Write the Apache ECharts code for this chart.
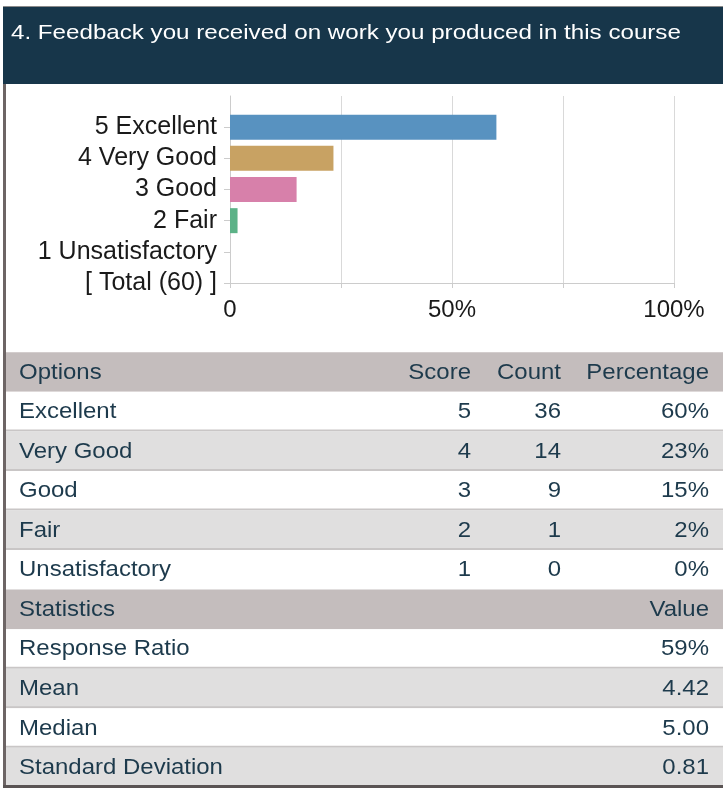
<!DOCTYPE html>
<html><head><meta charset="utf-8">
<script src="https://cdn.jsdelivr.net/npm/echarts@6/dist/echarts.min.js"></script>
<style>html,body{margin:0;padding:0;background:#fff}#c{width:723px;height:788px}</style>
</head><body><div id="c"></div>
<script>
const titleText = '4. Feedback you received on work you produced in this course';
const categories = ['5 Excellent', '4 Very Good', '3 Good', '2 Fair', '1 Unsatisfactory', '[ Total (60) ]'];
const barPercents = [60, 23.3, 15, 1.7, 0, null];
const barColors = ['#5892c0', '#c8a263', '#d780aa', '#5cb287', '#999999', '#999999'];
const xTickValues = [0, 50, 100];

const tableHeader = ['Options', 'Score', 'Count', 'Percentage'];
const optionNames = ['Excellent', 'Very Good', 'Good', 'Fair', 'Unsatisfactory'];
const scores = ['5', '4', '3', '2', '1'];
const counts = ['36', '14', '9', '1', '0'];
const percentLabels = ['60%', '23%', '15%', '2%', '0%'];
const statHeader = ['Statistics', '', '', 'Value'];
const statNames = ['Response Ratio', 'Mean', 'Median', 'Standard Deviation'];
const statValues = ['59%', '4.42', '5.00', '0.81'];

const FONT = "'Liberation Sans', Arial, sans-serif";
const TXT = '#1d3a4c';
const chart = echarts.init(document.getElementById('c'));

// table layout
const rowH = 39.55, tableTop = 352.3, tableLeft = 6, tableW = 717;
const cols = [{x: 19, align: 'left'}, {x: 471, align: 'right'}, {x: 561, align: 'right'}, {x: 709, align: 'right'}];
const rows = [];
rows.push({head: true, cells: tableHeader});
optionNames.forEach((n, i) => rows.push({head: false, k: i, last: i === optionNames.length - 1, cells: [n, scores[i], counts[i], percentLabels[i]]}));
rows.push({head: true, cells: statHeader});
statNames.forEach((n, i) => rows.push({head: false, k: i, last: i === statNames.length - 1, cells: [n, '', '', statValues[i]]}));

const graphics = [];
graphics.push({type: 'rect', shape: {x: 3, y: 6, width: 720, height: 1}, style: {fill: '#8a8a8a'}});
graphics.push({type: 'rect', shape: {x: 3, y: 7, width: 720, height: 77}, style: {fill: '#17364a'}});
graphics.push({type: 'text', x: 11, y: 33, scaleX: 1.15, style: {text: titleText, fill: '#ffffff', fontSize: 21, fontFamily: FONT, align: 'left', verticalAlign: 'middle'}});

rows.forEach((r, ri) => {
  const y = tableTop + ri * rowH;
  const bg = r.head ? '#c4bdbd' : (r.k % 2 === 0 ? '#ffffff' : '#e0dfdf');
  graphics.push({type: 'rect', shape: {x: tableLeft, y: y, width: tableW, height: rowH}, style: {fill: bg}});
  if (!r.head && !r.last) {
    graphics.push({type: 'rect', shape: {x: tableLeft, y: y + rowH - 2, width: tableW, height: 2}, style: {fill: '#c9c6c6'}});
  }
  r.cells.forEach((t, ci) => {
    if (!t) return;
    graphics.push({type: 'text', x: cols[ci].x, y: y + rowH / 2 + 0.5, scaleX: 1.09,
      style: {text: t, fill: TXT, fontSize: 22, fontFamily: FONT, align: cols[ci].align, verticalAlign: 'middle'}});
  });
});
graphics.push({type: 'rect', shape: {x: 3, y: 84, width: 3, height: 704}, style: {fill: '#6d6565'}});
graphics.push({type: 'rect', shape: {x: 3, y: 785, width: 720, height: 3}, style: {fill: '#5a5454'}});

const option = {
  animation: false,
  backgroundColor: '#ffffff',
  grid: {left: 230, right: 49, top: 96, bottom: 505, outerBoundsMode: 'none'},
  xAxis: {
    type: 'value', min: 0, max: 100, interval: 25,
    axisLine: {show: true, lineStyle: {color: '#cccccc'}},
    axisTick: {show: true, length: 5, lineStyle: {color: '#cccccc'}},
    splitLine: {show: true, lineStyle: {color: '#d9d9d9'}},
    axisLabel: {
      formatter: v => xTickValues.indexOf(v) < 0 ? '' : (v === 0 ? '0' : v + '%'),
      fontSize: 24, color: '#1a1a1a', fontFamily: FONT, margin: 15
    }
  },
  yAxis: {
    type: 'category', inverse: true, boundaryGap: false,
    data: [''].concat(categories),
    axisLine: {show: true, lineStyle: {color: '#cccccc'}},
    axisTick: {show: true, length: 6, interval: (i) => i > 0, lineStyle: {color: '#cccccc'}},
    splitLine: {show: false},
    axisLabel: {fontSize: 25, color: '#1a1a1a', fontFamily: FONT, margin: 13, interval: 0}
  },
  series: [{
    type: 'bar', barWidth: 25, silent: true,
    data: [null].concat(barPercents.map((v, i) => ({value: v, itemStyle: {color: barColors[i]}})))
  }],
  graphic: {elements: graphics}
};
chart.setOption(option);
</script></body></html>
